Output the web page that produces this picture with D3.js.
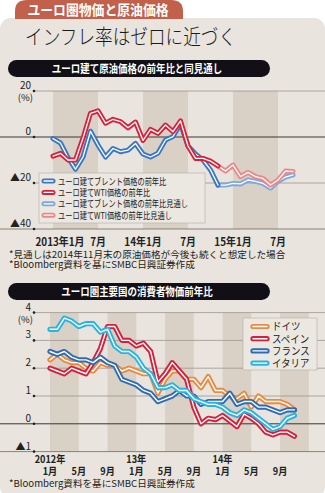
<!DOCTYPE html>
<html><head><meta charset="utf-8">
<script src="https://cdn.jsdelivr.net/npm/d3@7/dist/d3.min.js"></script>
<style>
html,body{margin:0;padding:0;background:#fff;}
svg{display:block;font-family:"Noto Sans CJK JP","Noto Sans",sans-serif;}
</style></head><body>
<svg id="chart" width="325" height="493"></svg>
<script>
// ---- Oil prices in euro terms, YoY % (month index 0 = Jan 2013) ----
const brentActual = [-0.7, -2.6, -9, -14, -8.7, 2.5, -3.5, -8.7, -5, -6.4, -5.7, -2.8, -7.4, -8.7, -7, -1.3, 0.2, 5.9, -3.9, -7.4, -10, -14.3, -20.9];
const wtiActual   = [-8.3, -7.1, -10, -10, -0.5, 10.3, 11.4, 6, 7.7, 6.7, 4, 6.5, -1.5, 3.3, 1.6, 5.2, 2.3, 7, -3.9, -9.3, -9.3, -10.5, -12.6];
const outlookStart = 22;
const brentOutlook = [-20.9, -20.9, -20.2, -20.4, -18.7, -19.3, -20.2, -22.2, -19.3, -17.4, -16.5];
const wtiOutlook   = [-12.6, -14.8, -12.2, -17.2, -15.4, -17.2, -18, -20.9, -18.7, -14.8, -15];
const oilSeriesNames = ["ユーロ建てブレント価格の前年比", "ユーロ建てWTI価格の前年比", "ユーロ建てブレント価格の前年比見通し", "ユーロ建てWTI価格の前年比見通し"];
const oilTickMonths = [0, 6, 12, 18, 24, 30];
const oilTickLabels = ["2013年1月", "7月", "14年1月", "7月", "15年1月", "7月"];
const oilYTicks = [20, 0, -20, -40];
const oilYLabels = ["20", "0", "▲20", "▲40"];
const oilNotes = ["*見通しは2014年11月末の原油価格が今後も続くと想定した場合", "*Bloomberg資料を基にSMBC日興証券作成"];

// ---- Consumer prices, YoY % (month index 0 = Jan 2012) ----
const cpiCountries = ["ドイツ", "スペイン", "フランス", "イタリア"];
const germany = [2.3,2.5,2.3,2.2,2.2,2.0,1.9,2.2,2.1,2.1,1.9,2.0, 1.9,1.8,1.8,1.1,1.6,1.9,1.9,1.6,1.6,1.3,1.7,1.2, 1.2,1.0,0.9,1.1,0.6,1.0,0.8,0.8,0.8,0.7,0.5];
const spain   = [2.0,1.9,1.8,2.0,1.9,1.8,2.2,2.7,3.5,3.5,3.0,3.0, 2.8,2.9,2.6,1.5,1.8,2.2,1.9,1.6,0.6,0.0,0.2,0.15, 0.3,0.1,-0.1,0.35,0.2,0.0,-0.3,-0.4,-0.3,-0.3,-0.45];
const france  = [2.6,2.5,2.6,2.4,2.3,2.3,2.2,2.4,2.2,2.1,1.6,1.5, 1.4,1.2,1.1,0.8,0.9,1.0,1.2,1.0,1.0,0.7,0.8,0.8, 0.8,1.1,0.7,0.8,0.8,0.6,0.6,0.5,0.4,0.5,0.5];
const italy   = [3.4,3.4,3.8,3.7,3.5,3.6,3.6,3.3,3.4,2.8,2.6,2.6, 2.4,2.0,1.8,1.3,1.3,1.4,1.2,1.2,0.9,0.8,0.7,0.7, 0.6,0.4,0.3,0.5,0.4,0.2,0.0,-0.2,-0.1,0.2,0.3];
const cpiTickMonths = [0, 4, 8, 12, 16, 20, 24, 28, 32];
const cpiMonthLabels = ["1月", "5月", "9月", "1月", "5月", "9月", "1月", "5月", "9月"];
const cpiYearLabels = ["2012年", "", "", "13年", "", "", "14年", "", ""];
const cpiYTicks = [4, 3, 2, 1, 0, -1];
const cpiYLabels = ["4", "3", "2", "1", "0", "▲1"];
const cpiNote = "*Bloomberg資料を基にSMBC日興証券作成";

// ---- palette ----
const C = {
  panel: "#e9e5de", bandDark: "#d9d1c6", tab: "#c1604b", pill: "#121016",
  grid: "#9a958e", axis: "#3a3633",
  brent: "#3a77c0", wti: "#d8223c", brentOut: "#7ea8da", wtiOut: "#ee8688",
  de: "#eb8a3f", es: "#d61f3c", fr: "#2f6bb2", it: "#28b4e2"
};

const svg = d3.select("#chart");

function condense(sel, k) {
  sel.each(function () {
    const L = this.getComputedTextLength();
    d3.select(this).attr("textLength", L * k).attr("lengthAdjust", "spacingAndGlyphs");
  });
}

// one <text> holding several stacked lines
function multiline(parent, x, y0, dy, lines, attrs) {
  const t = parent.append("text");
  Object.entries(attrs).forEach(([k, v]) => t.attr(k, v));
  lines.forEach((s, i) => {
    if (s === "") return;
    t.append("tspan").attr("x", x).attr("y", y0 + i * dy).text(s);
  });
  return t;
}

// background panel + tab
svg.append("rect").attr("x", 0).attr("y", 18).attr("width", 325).attr("height", 480)
  .attr("rx", 11).attr("fill", C.panel);
svg.append("path").attr("d", "M15,19 V11 Q15,0 27,0 H171 Q183,0 183,11 V19 Z").attr("fill", C.tab);
svg.append("text").attr("x", 98).attr("y", 15).attr("text-anchor", "middle")
  .attr("fill", "#fff").attr("font-size", 13.5).attr("font-weight", 700)
  .text("ユーロ圏物価と原油価格").call(condense, 0.95);

svg.append("text").attr("x", 25).attr("y", 44).attr("fill", "#1a1a1a")
  .attr("font-size", 21).attr("font-weight", 300)
  .text("インフレ率はゼロに近づく").call(condense, 0.84);

function pill(y, label) {
  svg.append("rect").attr("x", 8).attr("y", y).attr("width", 262).attr("height", 17)
    .attr("rx", 8.5).attr("fill", C.pill);
  svg.append("text").attr("x", 137).attr("y", y + 12.5).attr("text-anchor", "middle")
    .attr("fill", "#fff").attr("font-size", 11).attr("font-weight", 700)
    .text(label).call(condense, 0.86);
}

function doubleLine(g, pts, x, y, color, w, wi) {
  const line = d3.line().x(d => x(d[0])).y(d => y(d[1]));
  g.append("path").attr("d", line(pts)).attr("fill", "none").attr("stroke", color)
    .attr("stroke-width", w).attr("stroke-linejoin", "round").attr("stroke-linecap", "round");
  g.append("path").attr("d", line(pts)).attr("fill", "none").attr("stroke", "#fff")
    .attr("stroke-width", wi).attr("stroke-linejoin", "round").attr("stroke-linecap", "round");
}

function yAxis(g, ticks, labels, y, fullLines, unitGap) {
  ticks.forEach((v, i) => {
    const full = fullLines.includes(v);
    g.append("line").attr("x1", full ? 0 : 33).attr("x2", 325)
      .attr("y1", y(v)).attr("y2", y(v))
      .attr("stroke", v === 0 ? C.axis : (full ? "#6d6863" : C.grid))
      .attr("stroke-width", v === 0 ? 1 : 0.8);
    g.append("circle").attr("cx", 34).attr("cy", y(v)).attr("r", 1.3).attr("fill", "#222");
    const t = g.append("text").attr("font-size", 10).attr("fill", "#222").attr("text-anchor", "end");
    t.append("tspan").attr("x", 31).attr("y", y(v) - 2).text(labels[i]);
    if (i === 0) {
      // unit sits under the top tick label
      t.append("tspan").attr("x", 33).attr("y", y(v) - 2 + unitGap)
        .attr("font-size", 9.5).text("(%)");
    }
  });
}

// ================= Chart 1: oil =================
pill(60, "ユーロ建て原油価格の前年比と同見通し");
const g1 = svg.append("g");
const x1 = d3.scaleLinear().domain([0, 6]).range([53, 98]);
const y1 = d3.scaleLinear().domain([-40, 20]).range([229, 91]);

[0, 12, 24].forEach(s => {
  g1.append("rect").attr("x", x1(s)).attr("y", y1(20)).attr("width", x1(s + 6) - x1(s))
    .attr("height", y1(-40) - y1(20)).attr("fill", C.bandDark);
});
yAxis(g1, oilYTicks, oilYLabels, y1, [0, -40], 12);

oilTickMonths.forEach((m, i) => {
  g1.append("text").attr("x", x1(m) + (i === 0 ? 7 : 0)).attr("y", 246)
    .attr("text-anchor", "middle").attr("font-size", 11).attr("font-weight", 700)
    .attr("fill", "#222").text(oilTickLabels[i]).call(condense, 0.9);
});

const toPts = (arr, start) => arr.map((v, i) => [start + i, v]);
doubleLine(g1, toPts(brentOutlook, outlookStart), x1, y1, C.brentOut, 5, 1.3);
doubleLine(g1, toPts(wtiOutlook, outlookStart), x1, y1, C.wtiOut, 5, 1.3);
doubleLine(g1, toPts(brentActual, 0), x1, y1, C.brent, 5, 1.3);
doubleLine(g1, toPts(wtiActual, 0), x1, y1, C.wti, 5, 1.3);

// legend
const lg1 = g1.append("g");
lg1.append("rect").attr("x", 39).attr("y", 173).attr("width", 166).attr("height", 50)
  .attr("fill", "#ebe7e1").attr("stroke", "#b9b4ad").attr("stroke-width", 0.7);
const oilColors = [C.brent, C.wti, C.brentOut, C.wtiOut];
const lgStep1 = 11.4;
oilSeriesNames.forEach((name, i) => {
  const yy = 181 + i * lgStep1;
  const sw = d3.scaleLinear().domain([0, 1]).range([44, 53]);
  doubleLine(lg1, [[0, yy], [1, yy]], sw, v => v, oilColors[i], 5, 1.3);
});
const lt1 = multiline(lg1, 58, 184.5, lgStep1, oilSeriesNames, { "font-size": 9.5, fill: "#222" });
lt1.selectAll("tspan").call(condense, 0.76);

multiline(svg, 9, 258, 10.2, oilNotes, { "font-size": 9.6, fill: "#222" });

// ================= Chart 2: CPI =================
pill(283, "ユーロ圏主要国の消費者物価前年比");
const g2 = svg.append("g");
const x2 = d3.scaleLinear().domain([0, 4]).range([50, 78.76]);
const y2 = d3.scaleLinear().domain([-1, 4]).range([451.6, 312.6]);

[0, 8, 16, 24, 32].forEach(s => {
  const xa = x2(s), xb = Math.min(x2(s + 4), 325);
  g2.append("rect").attr("x", xa).attr("y", y2(4)).attr("width", xb - xa)
    .attr("height", y2(-1) - y2(4)).attr("fill", C.bandDark);
});
yAxis(g2, cpiYTicks, cpiYLabels, y2, [0, -1], 12);

cpiTickMonths.forEach((m, i) => {
  const t = multiline(g2, x2(m), 463, 12, [cpiYearLabels[i], cpiMonthLabels[i]],
    { "font-size": 10.5, "font-weight": 700, fill: "#222", "text-anchor": "middle" });
  t.selectAll("tspan").call(condense, 0.87);
});

const cpiSeries = [germany, spain, france, italy];
const cpiColors = [C.de, C.es, C.fr, C.it];
cpiSeries.forEach((s, i) => doubleLine(g2, toPts(s, 0), x2, y2, cpiColors[i], 5.2, 1.4));

const lg2 = g2.append("g");
lg2.append("rect").attr("x", 243).attr("y", 318).attr("width", 74).attr("height", 52)
  .attr("fill", "#ebe7e1").attr("stroke", "#b9b4ad").attr("stroke-width", 0.7);
const lgStep2 = 12.2;
cpiCountries.forEach((name, i) => {
  const yy = 326.5 + i * lgStep2;
  const sw = d3.scaleLinear().domain([0, 1]).range([253, 267]);
  doubleLine(lg2, [[0, yy], [1, yy]], sw, v => v, cpiColors[i], 5.2, 1.4);
});
const lt2 = multiline(lg2, 272, 330.3, lgStep2, cpiCountries, { "font-size": 10.5, fill: "#222" });
lt2.selectAll("tspan").call(condense, 0.9);

svg.append("text").attr("x", 9).attr("y", 487).attr("font-size", 9.6).attr("fill", "#222")
  .text(cpiNote);
</script>
</body></html>
